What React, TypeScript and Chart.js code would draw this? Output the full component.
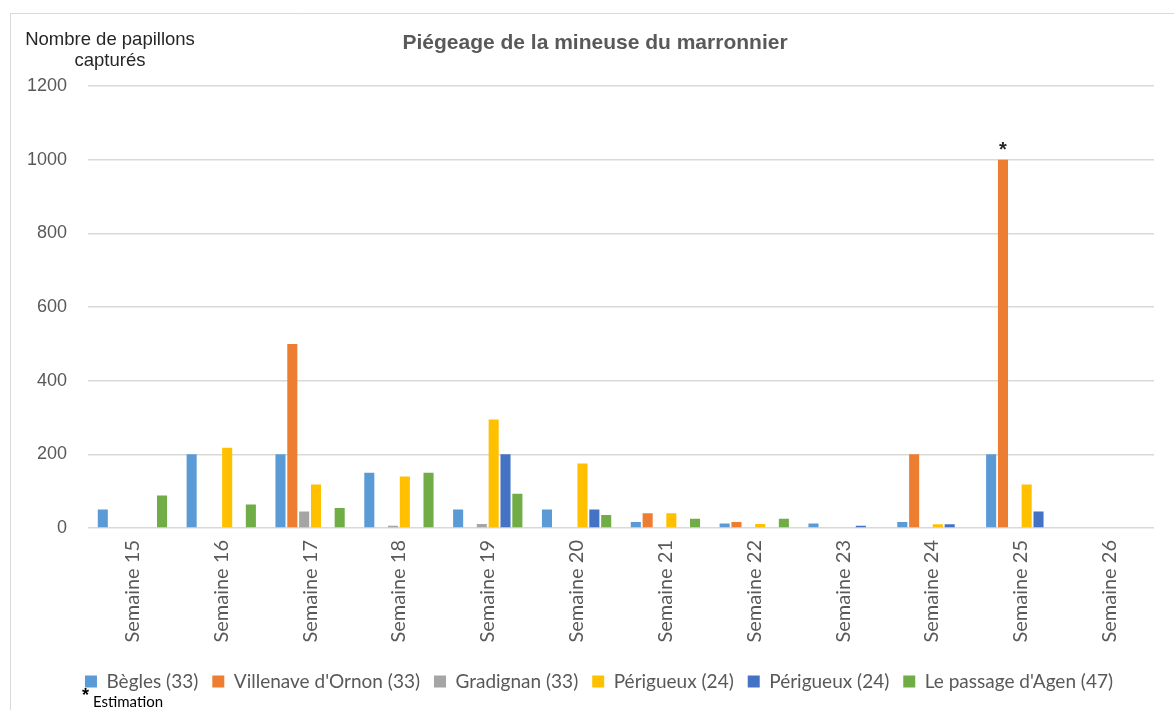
import React, { useEffect, useRef } from "react";
import { Chart, registerables } from "chart.js";

Chart.register(...registerables);

const weeks = [
  "Semaine 15", "Semaine 16", "Semaine 17", "Semaine 18", "Semaine 19", "Semaine 20",
  "Semaine 21", "Semaine 22", "Semaine 23", "Semaine 24", "Semaine 25", "Semaine 26",
];
const begles = [50, 200, 200, 150, 50, 50, 16, 12, 12, 16, 200, 0];
const villenave = [0, 0, 500, 0, 0, 0, 40, 16, 0, 200, 1000, 0];
const gradignan = [0, 0, 45, 6, 11, 0, 0, 0, 0, 0, 0, 0];
const perigueuxA = [0, 218, 118, 140, 295, 175, 40, 11, 0, 10, 118, 0];
const perigueuxB = [0, 0, 0, 0, 200, 50, 0, 0, 6, 10, 45, 0];
const agen = [88, 64, 54, 150, 93, 35, 25, 25, 0, 0, 0, 0];

const seriesNames = [
  "Bègles (33)", "Villenave d'Ornon (33)", "Gradignan (33)",
  "Périgueux (24)", "Périgueux (24)", "Le passage d'Agen (47)",
];
const seriesColors = ["#5B9BD5", "#ED7D31", "#A5A5A5", "#FFC000", "#4472C4", "#70AD47"];
const yTicks = [0, 200, 400, 600, 800, 1000, 1200];

const chartTitle = "Piégeage de la mineuse du marronnier";
const yTitleLines = ["Nombre de papillons", "capturés"];
const estimationNote = "Estimation";
const estimatedPoint = { series: 1, index: 10 };

const decorPlugin = {
  id: "decor",
  afterLayout(chart: any) {
    if (chart.titleBlock) {
      chart.titleBlock.left += 13;
      chart.titleBlock.right += 13;
    }
    if (chart.legend) {
      chart.legend.left += 17;
      chart.legend.right += 17;
    }
  },
  beforeDraw(chart: any) {
    const ctx = chart.ctx;
    ctx.save();
    ctx.fillStyle = "#ffffff";
    ctx.fillRect(0, 0, chart.width, chart.height);
    ctx.strokeStyle = "#d9d9d9";
    ctx.lineWidth = 1;
    ctx.beginPath();
    ctx.moveTo(10.5, chart.height);
    ctx.lineTo(10.5, 13.5);
    ctx.lineTo(chart.width, 13.5);
    ctx.stroke();
    ctx.restore();
  },
  afterDraw(chart: any) {
    const ctx = chart.ctx;
    ctx.save();
    ctx.fillStyle = "#262626";
    ctx.font = '18.5px "Liberation Sans", Arial, sans-serif';
    ctx.textAlign = "center";
    ctx.textBaseline = "alphabetic";
    ctx.fillText(yTitleLines[0], 110, 45);
    ctx.fillText(yTitleLines[1], 110, 66);

    const bar = chart.getDatasetMeta(estimatedPoint.series).data[estimatedPoint.index];
    if (bar) {
      ctx.font = 'bold 20px "Liberation Sans", Arial, sans-serif';
      ctx.fillStyle = "#262626";
      ctx.fillText("*", bar.x, bar.y - 4);
    }

    ctx.textAlign = "left";
    ctx.font = 'bold 18px "Liberation Sans", Arial, sans-serif';
    ctx.fillStyle = "#000000";
    ctx.fillText("*", 82, 701);
    ctx.font = '15px Lato, "Open Sans", sans-serif';
    ctx.fillText(estimationNote, 93, 707);
    ctx.restore();
  },
};

export default function App() {
  const canvasRef = useRef<HTMLCanvasElement | null>(null);

  useEffect(() => {
    const canvas = canvasRef.current;
    if (!canvas) return;
    const seriesData = [begles, villenave, gradignan, perigueuxA, perigueuxB, agen];
    const chart = new Chart(canvas, {
      type: "bar",
      data: {
        labels: weeks,
        datasets: seriesData.map((d, i) => ({
          label: seriesNames[i],
          data: d,
          backgroundColor: seriesColors[i],
          borderWidth: 0,
          categoryPercentage: 0.8,
          barPercentage: 0.85,
        })),
      },
      options: {
        responsive: false,
        animation: false,
        devicePixelRatio: 1,
        layout: { padding: { top: 13, left: 10, right: 20, bottom: 9 } },
        plugins: {
          title: {
            display: true,
            text: chartTitle,
            color: "#595959",
            font: { family: '"Liberation Sans", Arial, sans-serif', size: 21, weight: "bold" },
            padding: { top: 18, bottom: 30 },
          },
          legend: {
            display: true,
            position: "bottom",
            labels: {
              color: "#595959",
              font: { family: 'Lato, "Open Sans", sans-serif', size: 19 },
              boxWidth: 12,
              boxHeight: 12,
              padding: 14,
            },
          },
          tooltip: { enabled: false },
        },
        scales: {
          x: {
            grid: { display: false, drawTicks: false },
            border: { display: false },
            ticks: {
              color: "#595959",
              font: { family: 'Lato, "Open Sans", sans-serif', size: 20 },
              minRotation: 90,
              maxRotation: 90,
              padding: 12,
            },
            afterFit(scale: any) {
              scale.height = 130;
            },
          },
          y: {
            min: 0,
            max: 1200,
            grid: { color: "#d9d9d9", lineWidth: 1.5, drawTicks: false },
            border: { display: false },
            afterBuildTicks(scale: any) {
              scale.ticks = yTicks.map((v) => ({ value: v }));
            },
            ticks: {
              color: "#595959",
              font: { family: '"Liberation Sans", Arial, sans-serif', size: 18 },
              padding: 21,
              callback: (value: any) => String(value),
            },
            afterFit(scale: any) {
              scale.width = 78;
            },
          },
        },
      },
      plugins: [decorPlugin],
    });
    return () => chart.destroy();
  }, []);

  return (
    <div style={{ position: "absolute", left: 0, top: 0, width: 1174, height: 710, background: "#fff" }}>
      <canvas ref={canvasRef} width={1174} height={710} style={{ display: "block" }} />
    </div>
  );
}
